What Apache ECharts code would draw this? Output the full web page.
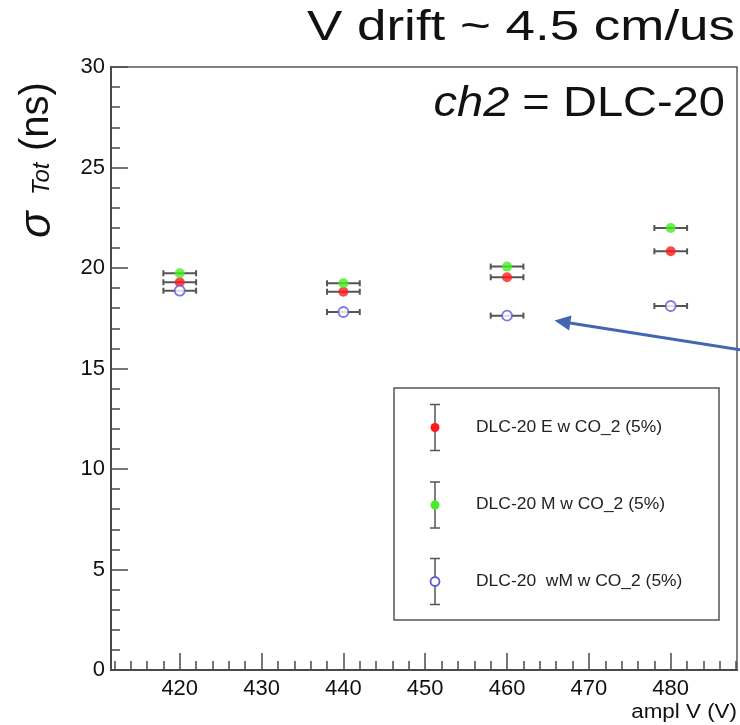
<!DOCTYPE html>
<html>
<head>
<meta charset="utf-8">
<script src="https://cdn.jsdelivr.net/npm/echarts@6/dist/echarts.min.js"></script>
<style>
  html, body { margin: 0; padding: 0; background: #fff; }
  #chart { width: 740px; height: 725px; }
</style>
</head>
<body>
<div id="chart"></div>
<script>
// Amplification voltage points (V)
const ampl = [420, 440, 460, 480];
const amplErr = 2;

// Time-over-threshold resolution, sigma (ns)
const sigmaE  = [19.29, 18.82, 19.54, 20.83];
const sigmaM  = [19.74, 19.24, 20.07, 21.99];
const sigmaWM = [18.87, 17.81, 17.63, 18.11];

const seriesNames = [
  'DLC-20 E w CO_2 (5%)',
  'DLC-20 M w CO_2 (5%)',
  'DLC-20  wM w CO_2 (5%)'
];

// Axis ticks
const xMajorTicks = [420, 430, 440, 450, 460, 470, 480];
const xMinorTicks = [412, 414, 416, 418, 422, 424, 426, 428, 432, 434, 436, 438,
                     442, 444, 446, 448, 452, 454, 456, 458, 462, 464, 466, 468,
                     472, 474, 476, 478, 482, 484, 486, 488];
const xRange = [411.6, 488.1];
const yRange = [0, 30];
const yStep = 5;

const FONT = '"Liberation Sans", Arial, Helvetica, sans-serif';
const AXIS_COLOR = '#4a4a4a';
const BAR_COLOR = '#555';

const styles = [
  { color: '#ff1a1a', borderColor: '#ff1a1a', borderWidth: 0 },
  { color: '#44ee22', borderColor: '#44ee22', borderWidth: 0 },
  { color: '#ffffff', borderColor: '#5a5ad8', borderWidth: 1.8 }
];
const values = [sigmaE, sigmaM, sigmaWM];

const chart = echarts.init(document.getElementById('chart'), null, { renderer: 'canvas' });

// horizontal error bars with small end caps
function errorBarItem(params, api) {
  const x = api.value(0), y = api.value(1);
  const a = api.coord([x - amplErr, y]);
  const b = api.coord([x + amplErr, y]);
  const cap = 3;
  const st = { stroke: BAR_COLOR, lineWidth: 2 };
  return {
    type: 'group',
    children: [
      { type: 'line', shape: { x1: a[0], y1: a[1], x2: b[0], y2: b[1] }, style: st },
      { type: 'line', shape: { x1: a[0], y1: a[1] - cap, x2: a[0], y2: a[1] + cap }, style: st },
      { type: 'line', shape: { x1: b[0], y1: b[1] - cap, x2: b[0], y2: b[1] + cap }, style: st }
    ]
  };
}

const series = [];
values.forEach((vals, i) => {
  series.push({
    type: 'custom',
    name: seriesNames[i] + ' err',
    renderItem: errorBarItem,
    data: ampl.map((a, k) => [a, vals[k]]),
    z: 2,
    silent: true
  });
});
values.forEach((vals, i) => {
  series.push({
    type: 'scatter',
    name: seriesNames[i],
    symbol: 'circle',
    symbolSize: 10,
    itemStyle: styles[i],
    data: ampl.map((a, k) => [a, vals[k]]),
    z: 3,
    silent: true
  });
});

// legend box drawn as graphics (markers with vertical error bars)
const legendBox = { x: 394, y: 388, w: 325, h: 232 };
const legendRows = [427.5, 505, 581.5];
const legendGraphics = [{
  type: 'rect',
  shape: { x: legendBox.x, y: legendBox.y, width: legendBox.w, height: legendBox.h },
  style: { fill: '#fff', stroke: '#555', lineWidth: 1.5 },
  z: 10
}];
legendRows.forEach((ry, i) => {
  const cx = 435;
  const st = { stroke: BAR_COLOR, lineWidth: 1.5 };
  legendGraphics.push(
    { type: 'line', shape: { x1: cx, y1: ry - 23, x2: cx, y2: ry + 23 }, style: st, z: 11 },
    { type: 'line', shape: { x1: cx - 5, y1: ry - 23, x2: cx + 5, y2: ry - 23 }, style: st, z: 11 },
    { type: 'line', shape: { x1: cx - 5, y1: ry + 23, x2: cx + 5, y2: ry + 23 }, style: st, z: 11 },
    { type: 'circle', shape: { cx: cx, cy: ry, r: 4.5 },
      style: { fill: styles[i].color, stroke: styles[i].borderWidth ? styles[i].borderColor : null, lineWidth: styles[i].borderWidth },
      z: 12 },
    { type: 'text', x: 476, y: ry,
      style: { text: seriesNames[i], font: '16px ' + FONT, fill: '#222', textAlign: 'left', textVerticalAlign: 'middle' },
      scaleX: 1.09, z: 12 }
  );
});

// annotation arrow
const tip = [554.5, 320.5], tail = [741, 350];
const dx = tail[0] - tip[0], dy = tail[1] - tip[1];
const len = Math.hypot(dx, dy);
const ux = dx / len, uy = dy / len;
const headL = 16, headW = 7.5;
const bx = tip[0] + ux * headL, by = tip[1] + uy * headL;
const arrowGraphics = [
  { type: 'line', shape: { x1: bx - ux * 2, y1: by - uy * 2, x2: tail[0], y2: tail[1] },
    style: { stroke: '#4466b0', lineWidth: 3 }, z: 20 },
  { type: 'polygon',
    shape: { points: [tip, [bx - uy * headW, by + ux * headW], [bx + uy * headW, by - ux * headW]] },
    style: { fill: '#4466b0' }, z: 20 }
];

const textGraphics = [
  { type: 'text', x: 735, y: 28,
    style: { text: 'V drift ~ 4.5 cm/us', font: '42px ' + FONT, fill: '#111', textAlign: 'right', textVerticalAlign: 'middle' },
    scaleX: 1.26, z: 20 },
  { type: 'text', x: 725, y: 104,
    style: {
      text: '{it|ch2} = DLC-20',
      font: '42px ' + FONT, fill: '#111', textAlign: 'right', textVerticalAlign: 'middle',
      rich: { it: { fontStyle: 'italic', fontSize: 42, fontFamily: FONT, fill: '#111' } }
    },
    scaleX: 1.12, z: 20 },
  // y-axis title, read bottom to top
  { type: 'text', x: 38, y: 238, rotation: Math.PI / 2,
    style: { text: 'σ', font: 'italic 44px ' + FONT, fill: '#111', textAlign: 'left', textVerticalAlign: 'middle' }, z: 20 },
  { type: 'text', x: 42, y: 195, rotation: Math.PI / 2,
    style: { text: 'Tot', font: 'italic 24px ' + FONT, fill: '#111', textAlign: 'left', textVerticalAlign: 'middle' }, z: 20 },
  { type: 'text', x: 37, y: 151, rotation: Math.PI / 2,
    style: { text: '(ns)', font: '40px ' + FONT, fill: '#111', textAlign: 'left', textVerticalAlign: 'middle' }, z: 20 },
  // x-axis title
  { type: 'text', x: 737, y: 712,
    style: { text: 'ampl V (V)', font: '20px ' + FONT, fill: '#111', textAlign: 'right', textVerticalAlign: 'middle' },
    scaleX: 1.12, z: 20 }
];

const option = {
  backgroundColor: '#fff',
  animation: false,
  grid: {
    left: 111, top: 67, right: 3, bottom: 55,
    show: true, borderColor: '#5a5a5a', borderWidth: 1.5, backgroundColor: 'transparent',
    outerBoundsMode: 'none'
  },
  xAxis: [
    {
      type: 'value', min: xRange[0], max: xRange[1],
      axisLine: { show: true, onZero: false, lineStyle: { color: AXIS_COLOR, width: 2 } },
      axisTick: { show: true, inside: true, length: 17, customValues: xMajorTicks,
                  lineStyle: { color: AXIS_COLOR, width: 1.5 } },
      axisLabel: { show: true, customValues: xMajorTicks, margin: 8,
                   fontSize: 22, fontFamily: FONT, color: '#111' },
      splitLine: { show: false }
    },
    {
      type: 'value', min: xRange[0], max: xRange[1], position: 'bottom',
      axisLine: { show: false },
      axisTick: { show: true, inside: true, length: 9, customValues: xMinorTicks,
                  lineStyle: { color: AXIS_COLOR, width: 1.5 } },
      axisLabel: { show: false },
      splitLine: { show: false }
    }
  ],
  yAxis: {
    type: 'value', min: yRange[0], max: yRange[1], interval: yStep,
    axisLine: { show: true, onZero: false, lineStyle: { color: AXIS_COLOR, width: 2 } },
    axisTick: { show: true, inside: true, length: 17, lineStyle: { color: AXIS_COLOR, width: 1.5 } },
    minorTick: { show: true, splitNumber: 5, length: 9, lineStyle: { color: AXIS_COLOR, width: 1.5 } },
    axisLabel: { margin: 6, fontSize: 22, fontFamily: FONT, color: '#111' },
    splitLine: { show: false }
  },
  series: series,
  graphic: { elements: legendGraphics.concat(arrowGraphics, textGraphics) }
};

chart.setOption(option);
</script>
</body>
</html>
